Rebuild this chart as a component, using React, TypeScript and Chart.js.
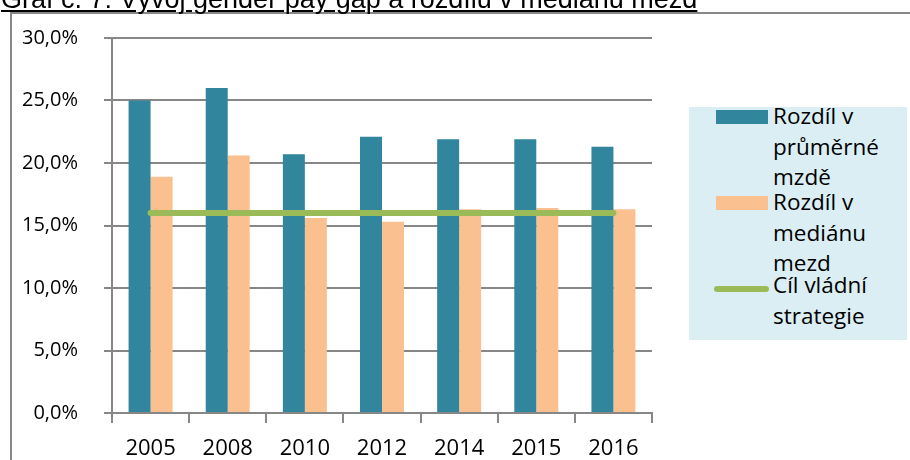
import React, { useEffect, useRef } from "react";
import { Chart, registerables } from "chart.js";

Chart.register(...registerables);

const TITLE = "Graf č. 7: Vývoj gender pay gap a rozdílu v mediánu mezd";
const categories = ["2005", "2008", "2010", "2012", "2014", "2015", "2016"];
const meanGap = [25.0, 26.0, 20.7, 22.1, 21.9, 21.9, 21.3];
const medianGap = [18.9, 20.6, 15.6, 15.3, 16.3, 16.4, 16.3];
const targetGap = [16.0, 16.0, 16.0, 16.0, 16.0, 16.0, 16.0];
const seriesNames = ["Rozdíl v průměrné mzdě", "Rozdíl v mediánu mezd", "Cíl vládní strategie"];
const legendLines = [
  ["Rozdíl v", "průměrné", "mzdě"],
  ["Rozdíl v", "mediánu", "mezd"],
  ["Cíl vládní", "strategie"],
];
const yMin = 0;
const yMax = 30;
const yStep = 5;

const BLUE = "#31859C";
const ORANGE = "#FAC090";
const GREEN = "#9BBB59";
const GRID = "#878787";
const FONT = "'Open Sans', 'Noto Sans', sans-serif";

export default function App() {
  const ref = useRef<HTMLCanvasElement | null>(null);

  useEffect(() => {
    if (!ref.current) return;
    const chart = new Chart(ref.current, {
      type: "bar",
      data: {
        labels: categories,
        datasets: [
          {
            type: "line",
            label: seriesNames[2],
            data: targetGap,
            borderColor: GREEN,
            backgroundColor: GREEN,
            borderWidth: 6,
            borderCapStyle: "round",
            pointRadius: 0,
            fill: false,
            order: 0,
          } as any,
          {
            label: seriesNames[0],
            data: meanGap,
            backgroundColor: BLUE,
            categoryPercentage: 0.57,
            barPercentage: 1.0,
            order: 1,
          },
          {
            label: seriesNames[1],
            data: medianGap,
            backgroundColor: ORANGE,
            categoryPercentage: 0.57,
            barPercentage: 1.0,
            order: 1,
          },
        ],
      },
      options: {
        responsive: false,
        animation: false,
        devicePixelRatio: 1,
        layout: { padding: { top: 37, right: 28, left: 0, bottom: 0 } },
        plugins: {
          legend: { display: false },
          title: { display: false },
          tooltip: { enabled: false },
        },
        scales: {
          x: {
            offset: true,
            grid: {
              offset: true,
              drawOnChartArea: false,
              drawTicks: true,
              tickLength: 10,
              color: GRID,
              lineWidth: 2,
            },
            border: { display: true, color: GRID, width: 2 },
            ticks: {
              color: "#000",
              font: { family: FONT, size: 22 },
              padding: 13,
              maxRotation: 0,
            },
            afterFit: (s: any) => {
              s.height = 47;
            },
          },
          y: {
            min: yMin,
            max: yMax,
            ticks: {
              stepSize: yStep,
              color: "#000",
              font: { family: FONT, size: 20 },
              padding: 26,
              callback: (v: any) => Number(v).toFixed(1).replace(".", ",") + "%",
            },
            grid: { color: GRID, lineWidth: 2, tickLength: 8 },
            border: { display: true, color: GRID, width: 2 },
            afterFit: (s: any) => {
              s.width = 112;
            },
          },
        },
      },
    });
    return () => chart.destroy();
  }, []);

  const itemTops = [125, 211, 294];
  const swatches = [
    { kind: "box", color: BLUE },
    { kind: "box", color: ORANGE },
    { kind: "line", color: GREEN },
  ];

  return (
    <div
      style={{
        position: "fixed",
        left: 0,
        top: 0,
        width: 910,
        height: 460,
        overflow: "hidden",
        background: "#fff",
      }}
    >
      <div
        style={{
          position: "absolute",
          left: 10,
          top: 12,
          width: 1200,
          height: 1200,
          borderLeft: `2px solid ${GRID}`,
          borderTop: `2px solid ${GRID}`,
        }}
      />
      <canvas
        ref={ref}
        width={680}
        height={460}
        style={{ position: "absolute", left: 0, top: 0, width: 680, height: 460 }}
      />
      <div
        style={{
          position: "absolute",
          left: 1,
          top: -14,
          fontFamily: "'Liberation Sans', Arial, sans-serif",
          fontSize: 27,
          lineHeight: "27px",
          whiteSpace: "nowrap",
          textDecoration: "underline",
          color: "#000",
          zIndex: 2,
        }}
      >
        {TITLE}
      </div>
      <div
        style={{
          position: "absolute",
          left: 689,
          top: 107,
          width: 218,
          height: 233,
          background: "#DAEEF3",
        }}
      />
      {legendLines.map((lines, i) => (
        <React.Fragment key={i}>
          {swatches[i].kind === "box" ? (
            <div
              style={{
                position: "absolute",
                left: 716,
                top: itemTops[i] - 15,
                width: 52,
                height: 14,
                background: swatches[i].color,
              }}
            />
          ) : (
            <div
              style={{
                position: "absolute",
                left: 714,
                top: itemTops[i] - 8,
                width: 55,
                height: 6,
                borderRadius: 3,
                background: swatches[i].color,
              }}
            />
          )}
          {lines.map((t, j) => (
            <div
              key={j}
              style={{
                position: "absolute",
                left: 773,
                top: itemTops[i] + j * 30.5 - 20,
                fontFamily: FONT,
                fontSize: 22.5,
                lineHeight: "22.5px",
                whiteSpace: "nowrap",
                color: "#000",
              }}
            >
              {t}
            </div>
          ))}
        </React.Fragment>
      ))}
    </div>
  );
}
